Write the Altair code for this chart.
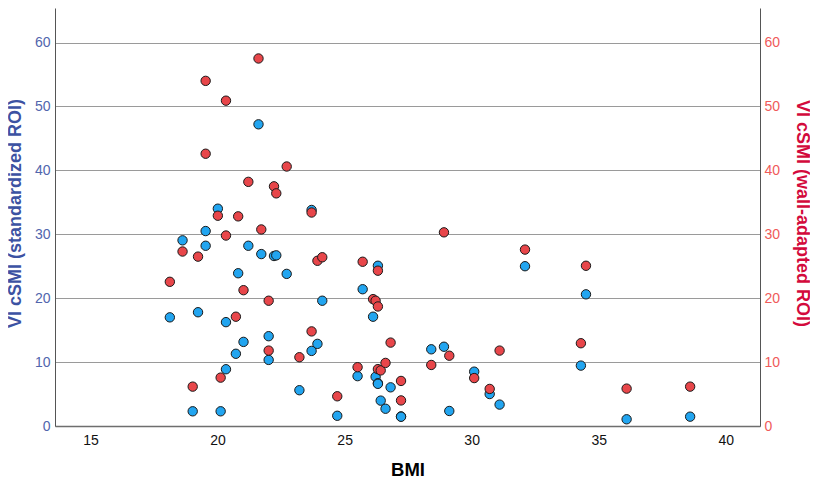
import altair as alt
import pandas as pd

# BMI of each subject
bmi = [18.12, 18.62, 19.02, 19.23, 19.53, 19.53, 20.01, 20.12, 20.33, 20.33,
       20.72, 20.81, 21.02, 21.21, 21.61, 21.72, 22.01, 22.01, 22.22, 22.31,
       22.72, 23.22, 23.70, 23.70, 23.93, 24.12, 24.71, 25.51, 25.71, 26.12,
       26.22, 26.31, 26.31, 26.31, 26.42, 26.61, 26.81, 27.22, 27.22, 28.41,
       28.91, 29.12, 30.10, 30.71, 31.10, 32.10, 34.30, 34.50, 36.10, 38.60]

# VI cSMI, standardized ROI (blue, left axis)
standardized = [17.0, 29.05, 2.3, 17.8, 30.5, 28.2, 34.0, 2.3, 16.25, 8.88,
                11.3, 23.9, 13.16, 28.2, 47.2, 26.9, 14.05, 10.34, 26.6, 26.7,
                23.8, 5.6, 33.8, 11.75, 12.85, 19.6, 1.6, 7.8, 21.4, 17.1,
                7.7, 25.07, 6.7, 6.6, 3.97, 2.7, 6.05, 1.5, 1.45, 12.0,
                12.4, 2.35, 8.5, 5.0, 3.35, 25.0, 9.45, 20.6, 1.05, 1.46]

# VI cSMI, wall-adapted ROI (red, right axis)
wall_adapted = [22.56, 27.3, 6.16, 26.5, 54.0, 42.6, 32.9, 7.57, 50.9, 29.8,
                17.1, 32.8, 21.25, 38.2, 57.5, 30.75, 19.6, 11.8, 37.5, 36.4,
                40.6, 10.76, 33.4, 14.8, 25.85, 26.4, 4.65, 9.2, 25.7, 19.85,
                19.6, 24.3, 18.7, 8.9, 8.7, 9.87, 13.05, 7.05, 4.0, 9.55,
                30.3, 11.0, 7.5, 5.8, 11.8, 27.6, 12.95, 25.07, 5.85, 6.16]

x_ticks = [15, 20, 25, 30, 35, 40]
y_ticks = [0, 10, 20, 30, 40, 50, 60]

df = pd.DataFrame({"BMI": bmi, "std": standardized, "wall": wall_adapted})

FONT = "Liberation Sans"
x_scale = alt.Scale(domain=[13.6, 41.35], nice=False, zero=False)
y_scale = alt.Scale(domain=[0, 65.4], nice=False)

x_enc = alt.X("BMI:Q", scale=x_scale,
              axis=alt.Axis(values=x_ticks, title="BMI", ticks=False, grid=False,
                            labelPadding=7, labelFontSize=14, labelColor="#111111",
                            labelFont=FONT, titleFont=FONT, titleFontSize=18.5,
                            titleFontWeight="bold", titleColor="#000000",
                            titleBaseline="alphabetic", titleY=49.5,
                            domainColor="#6e6e6e", domainWidth=1.5))

blue = alt.Chart(df).mark_circle(size=88, color="#22a5f0", stroke="#1a1a1a",
                                 strokeWidth=1, opacity=1).encode(
    x=x_enc,
    y=alt.Y("std:Q", scale=y_scale,
            axis=alt.Axis(orient="left", values=y_ticks, title="VI cSMI (standardized ROI)",
                          ticks=False, grid=True, gridColor="#9a9a9a", gridWidth=1,
                          labelPadding=5, labelFontSize=14, labelColor="#5165ad",
                          labelFont=FONT, titleFont=FONT, titleFontSize=18,
                          titleFontWeight="bold", titleColor="#3c52a2",
                          titleAngle=270, titleAlign="center", titleBaseline="middle",
                          titleX=-40, titleY=205,
                          domainColor="#555555", domainWidth=1)),
)

red = alt.Chart(df).mark_circle(size=88, color="#e8464a", stroke="#1a1a1a",
                                strokeWidth=1, opacity=1).encode(
    x=x_enc,
    y=alt.Y("wall:Q", scale=y_scale,
            axis=alt.Axis(orient="right", values=y_ticks, title="VI cSMI (wall-adapted ROI)",
                          ticks=False, grid=False,
                          labelPadding=4, labelFontSize=14, labelColor="#f05a5a",
                          labelFont=FONT, titleFont=FONT, titleFontSize=18,
                          titleFontWeight="bold", titleColor="#d30a3c",
                          titleAngle=90, titleAlign="center", titleBaseline="middle",
                          titleX=41, titleY=205,
                          domainColor="#555555", domainWidth=1)),
)

chart = alt.layer(blue, red).resolve_scale(y="independent").properties(
    width=705, height=418,
    autosize=alt.AutoSizeParams(type="none"),
    padding={"left": 47, "top": 0, "right": 50, "bottom": 50},
    background="white",
).configure_view(stroke="transparent")

chart.save("out.html", embed_options={"renderer": "svg", "actions": False})
